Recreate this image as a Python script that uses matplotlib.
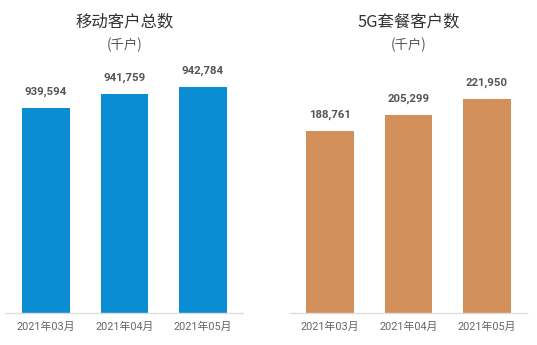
import matplotlib
matplotlib.use("Agg")
import matplotlib.pyplot as plt

months = ["2021年03月", "2021年04月", "2021年05月"]
mobile_users = [939594, 941759, 942784]
g5_users = [188761, 205299, 221950]
titles = ["移动客户总数", "5G套餐客户数"]
unit = "(千户)"

FAM = ["Roboto", "Noto Sans CJK SC", "DejaVu Sans"]
plt.rcParams["font.family"] = FAM

W, H = 537, 345
fig = plt.figure(figsize=(W / 100, H / 100), dpi=100)

def px_axes(x0, x1, ytop, ybot):
    return fig.add_axes([x0 / W, 1 - ybot / H, (x1 - x0) / W, (ybot - ytop) / H])

panels = [
    (6, 243, mobile_users, "#0a8dd3", (908440, 946890), titles[0]),
    (290, 527, g5_users, "#d4905a", (0, 262400), titles[1]),
]

for x0, x1, vals, color, ylim, title in panels:
    ax = px_axes(x0, x1, 60, 313)
    xs = range(len(months))
    ax.bar(xs, vals, width=0.61, color=color, zorder=2)
    ax.set_ylim(*ylim)
    ax.set_xlim(-0.51, 2.51)
    for s in ["top", "right", "left"]:
        ax.spines[s].set_visible(False)
    ax.spines["bottom"].set_color("#dddddd")
    ax.spines["bottom"].set_linewidth(1)
    ax.set_yticks([])
    ax.set_xticks(list(xs))
    ax.set_xticklabels(months, fontsize=7.8, color="#666666", family=FAM)
    ax.tick_params(axis="x", length=0, pad=6)
    for x, v in zip(xs, vals):
        ax.annotate(f"{v:,}", (x, v), xytext=(0, 8), textcoords="offset points",
                    ha="center", va="bottom", fontsize=8.2, color="#555555",
                    fontweight="bold", family=FAM)
    cx = (x0 + x1) / 2 / W
    fig.text(cx, 1 - 22 / H, title, ha="center", va="center", fontsize=11.8,
             color="#333333", family=["Noto Sans CJK SC", "DejaVu Sans"])
    fig.text(cx, 1 - 45 / H, unit, ha="center", va="center", fontsize=9.6,
             color="#555555", family=["Noto Sans CJK SC", "DejaVu Sans"])

fig.savefig("out.png", dpi=100, facecolor="white")
